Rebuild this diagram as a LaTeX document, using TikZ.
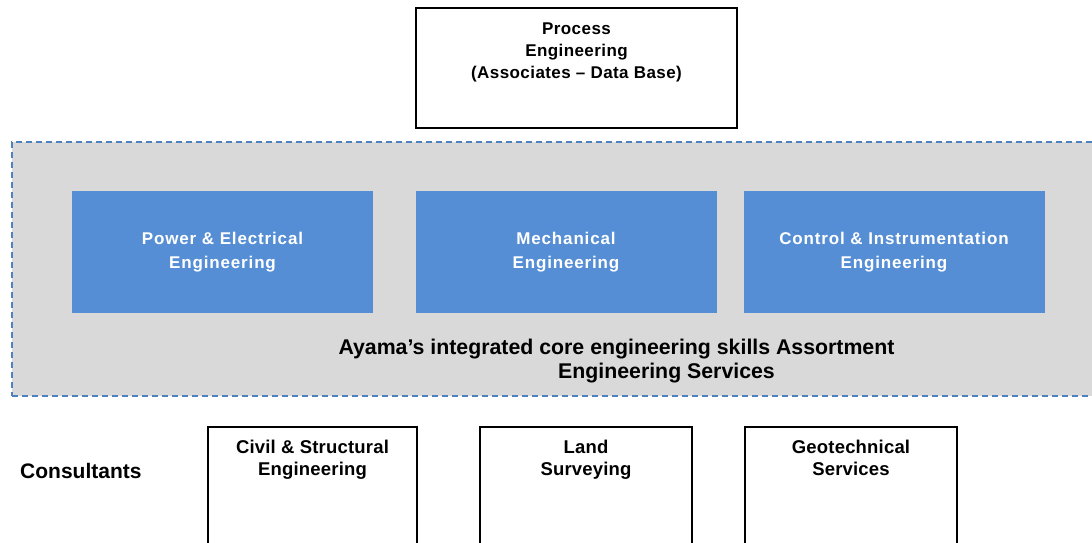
\documentclass[tikz,border=0pt]{standalone}
\usepackage{fontspec}
\setmainfont{Liberation Sans}
\newfontfamily\spacedfont[LetterSpace=5]{Liberation Sans}
\newfontfamily\lightspaced[LetterSpace=2.5]{Liberation Sans}
\newfontfamily\thinspaced[LetterSpace=1]{Liberation Sans}
\usetikzlibrary{positioning}
\definecolor{skillblue}{RGB}{85,142,213}
\definecolor{dashblue}{RGB}{79,129,189}
\definecolor{panelgray}{RGB}{217,217,217}
\begin{document}
\begin{tikzpicture}[x=1pt, y=-1pt,
		whitebox/.style={draw=black, line width=1.6pt, fill=white, inner sep=0pt},
		skillbox/.style={fill=skillblue, text=white, align=center, inner sep=0pt,
			minimum width=301pt, minimum height=122pt,
			font=\spacedfont\fontsize{17}{24}\selectfont\bfseries},
		boxtext/.style={anchor=north, align=center, inner sep=0pt, font=\lightspaced\fontsize{17}{22}\selectfont\bfseries},
		constext/.style={anchor=north, align=center, inner sep=0pt, font=\thinspaced\fontsize{18.5}{22}\selectfont\bfseries}]
		% page
		\useasboundingbox (0,0) rectangle (1092,542);
		\clip (0,0) rectangle (1092,542);
		
		% process engineering on top
		\node[whitebox, minimum width=321pt, minimum height=120pt] (process) at (576.5,68) {};
		\node[boxtext] (processtxt) at (576.5,22.5) {Process\\Engineering\\(Associates – Data Base)};
		
		% core skills panel
		\node[draw=dashblue, line width=1.3pt, dash pattern=on 6pt off 4pt, fill=panelgray,
			minimum width=1088pt, minimum height=254pt, inner sep=0pt] (core) at (556,269) {};
		\node[skillbox] (power) at (222.5,252) {Power \& Electrical\\Engineering};
		\node[skillbox] (mech) at (566,252) {Mechanical\\Engineering};
		\node[skillbox] (control) at (894,252) {Control \& Instrumentation\\Engineering};
		\node[align=center, inner sep=0pt, font=\fontsize{21.3}{24}\selectfont\bfseries] (coretxt) at (616.5,361)
			{Ayama’s integrated core engineering skills Assortment\\\hspace*{100pt}Engineering Services};
		
		% consultants below
		\node[anchor=west, inner sep=0pt, font=\fontsize{21}{24}\selectfont\bfseries] (cons) at (20,471) {Consultants};
		\node[whitebox, anchor=north, minimum width=209pt, minimum height=140pt] (civil) at (312.5,426) {};
		\node[whitebox, anchor=north, minimum width=212pt, minimum height=140pt] (land) at (586,426) {};
		\node[whitebox, anchor=north, minimum width=212pt, minimum height=140pt] (geo) at (851,426) {};
		\node[constext] (civiltxt) at (312.5,440) {Civil \& Structural\\Engineering};
		\node[constext] (landtxt) at (586,440) {Land\\Surveying};
		\node[constext] (geotxt) at (851,440) {Geotechnical\\Services};
		
\end{tikzpicture}
\end{document}
